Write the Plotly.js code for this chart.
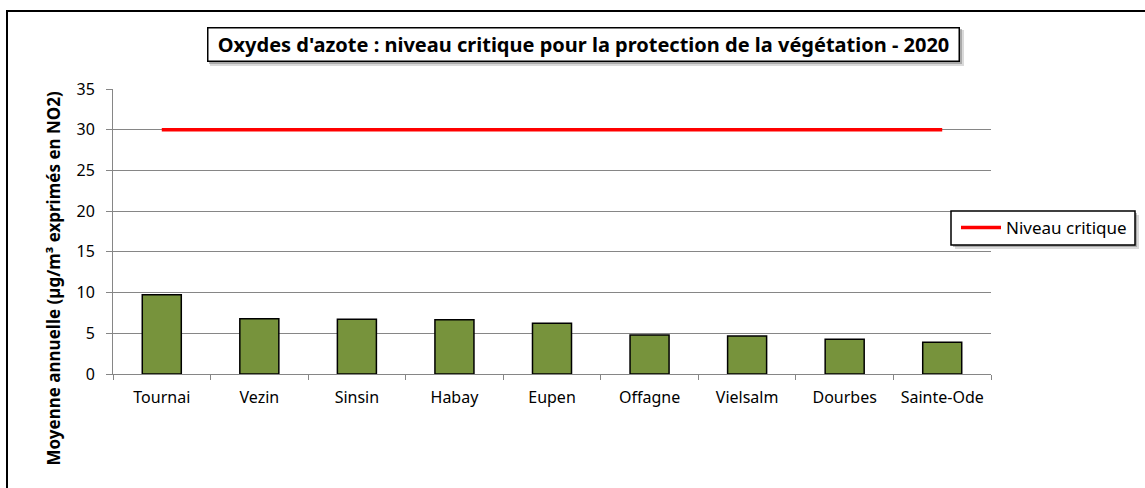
<!DOCTYPE html>
<html>
<head>
<meta charset="utf-8">
<script src="https://cdn.plot.ly/plotly-3.0.1.min.js"></script>
<style>html,body{margin:0;padding:0;background:#fff;}#chart{width:1145px;height:488px;}</style>
</head>
<body>
<div id="chart"></div>
<script>
var stations = ["Tournai", "Vezin", "Sinsin", "Habay", "Eupen", "Offagne", "Vielsalm", "Dourbes", "Sainte-Ode"];
var annualMeans = [9.74, 6.79, 6.72, 6.67, 6.23, 4.79, 4.67, 4.26, 3.89];
var criticalLevel = [30, 30, 30, 30, 30, 30, 30, 30, 30];
var yTicks = [0, 5, 10, 15, 20, 25, 30, 35];

var W = 1145, H = 488;
var L = 113, R = 991, T = 89, B = 374;
function px(x) { return (x - L) / (R - L); }
function py(y) { return (B - y) / (B - T); }

var font = "'Noto Sans', 'Open Sans', sans-serif";

var traces = [
  {
    type: "bar", x: stations, y: annualMeans, name: "Moyenne annuelle",
    marker: { color: "#77933C", line: { color: "#000000", width: 1.5 } },
    showlegend: false, hoverinfo: "x+y"
  },
  {
    type: "scatter", mode: "lines", x: stations, y: criticalLevel, name: "Niveau critique",
    line: { color: "#FF0000", width: 3.5 }
  }
];

var layout = {
  width: W, height: H,
  margin: { l: L, r: W - R, t: T, b: H - B },
  paper_bgcolor: "#ffffff", plot_bgcolor: "#ffffff",
  font: { family: font, size: 16, color: "#000000" },
  bargap: 0.6,
  showlegend: true,
  legend: {
    x: px(956), xanchor: "left", y: py(228), yanchor: "middle",
    bgcolor: "rgba(0,0,0,0)", borderwidth: 0, itemwidth: 40,
    font: { family: font, size: 17, color: "#000000" }
  },
  xaxis: {
    type: "category", tickson: "boundaries", ticks: "outside", ticklen: 5,
    tickcolor: "#868686", showline: true, linecolor: "#868686", linewidth: 1,
    showgrid: false, tickfont: { family: font, size: 16, color: "#000000" },
    ticklabelstandoff: 9, fixedrange: true
  },
  yaxis: {
    range: [0, 35], tickvals: yTicks, ticktext: yTicks.map(String),
    ticks: "outside", ticklen: 6, tickcolor: "#868686",
    showline: true, linecolor: "#868686", linewidth: 1,
    showgrid: true, gridcolor: "#868686", gridwidth: 1, zeroline: false,
    tickfont: { family: font, size: 16, color: "#000000" },
    ticklabelstandoff: 8, fixedrange: true
  },
  shapes: [
    { type: "rect", xref: "paper", yref: "paper", x0: px(7), x1: px(1160), y0: py(11), y1: py(520),
      line: { color: "#000000", width: 2 }, fillcolor: "rgba(0,0,0,0)", layer: "above" },
    { type: "rect", xref: "paper", yref: "paper", x0: px(210), x1: px(964), y0: py(30), y1: py(66),
      line: { width: 0 }, fillcolor: "rgba(150,150,150,0.35)", layer: "above" },
    { type: "rect", xref: "paper", yref: "paper", x0: px(209), x1: px(962), y0: py(29), y1: py(64),
      line: { width: 0 }, fillcolor: "rgba(110,110,110,0.45)", layer: "above" },
    { type: "rect", xref: "paper", yref: "paper", x0: px(955), x1: px(1139), y0: py(215), y1: py(249),
      line: { width: 0 }, fillcolor: "rgba(150,150,150,0.35)", layer: "above" },
    { type: "rect", xref: "paper", yref: "paper", x0: px(953), x1: px(1137), y0: py(213), y1: py(247),
      line: { width: 0 }, fillcolor: "rgba(110,110,110,0.45)", layer: "above" },
    { type: "rect", xref: "paper", yref: "paper", x0: px(951), x1: px(1135), y0: py(211), y1: py(245),
      line: { color: "#000000", width: 1.5 }, fillcolor: "#ffffff", layer: "above" }
  ],
  annotations: [
    { xref: "paper", yref: "paper", x: px(583.5), y: py(44.5), xanchor: "center", yanchor: "middle",
      text: "<b>Oxydes d'azote : niveau critique pour la protection de la végétation - 2020</b>",
      showarrow: false, font: { family: font, size: 20, color: "#000000" },
      width: 744, height: 26, align: "center",
      bgcolor: "#ffffff", bordercolor: "#000000", borderwidth: 1.5, borderpad: 3 },
    { xref: "paper", yref: "paper", x: px(53), y: py(278.5), xanchor: "center", yanchor: "middle",
      text: "<b>Moyenne annuelle (µg/m³ exprimés en NO2)</b>", textangle: -90,
      showarrow: false, font: { family: font, size: 17, color: "#000000" } }
  ]
};

Plotly.newPlot("chart", traces, layout, { displayModeBar: false, staticPlot: true });
</script>
</body>
</html>
